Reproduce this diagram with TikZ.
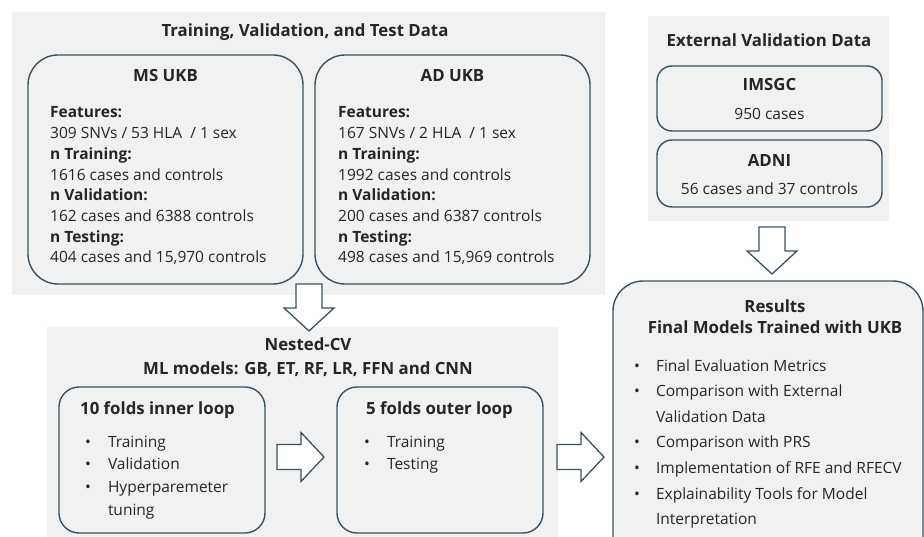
\documentclass[tikz,border=0pt]{standalone}
\usepackage{fontspec}
\setmainfont{Open Sans}
\definecolor{edgec}{RGB}{58,82,98}
\definecolor{panelc}{RGB}{241,241,241}
\definecolor{inkc}{RGB}{38,38,38}
\newcommand\dgBody{\fontsize{15.5}{20.7}\selectfont}
\newcommand\dgHead{\fontsize{16.8}{21}\selectfont\bfseries}
\tikzset{
  panel/.style={fill=panelc, draw=none, inner sep=0pt},
  rbox/.style={draw=edgec, line width=1.4pt, inner sep=0pt},
  blockarrow/.style={draw=edgec, fill=white, line width=1.3pt, line join=miter},
  head/.style={font=\dgHead, text=inkc, inner sep=0pt},
  body/.style={font=\dgBody, text=inkc, inner sep=0pt, anchor=base west},
  downarrow/.pic={\draw[blockarrow] (-13,0) -- (13,0) -- (13,24) -- (25,24) -- (0,47) -- (-25,24) -- (-13,24) -- cycle;},
  rightarrow/.pic={\draw[blockarrow] (0,-12.5) -- (24,-12.5) -- (24,-24.5) -- (47,0) -- (24,24.5) -- (24,12.5) -- (0,12.5) -- cycle;}
}
\begin{document}
\begin{tikzpicture}[x=1pt,y=-1pt]
\useasboundingbox (0,0) rectangle (924,537);
\clip (0,0) rectangle (924,537);
\fill[white] (0,0) rectangle (924,537);

% panels
\node[panel, minimum width=593pt, minimum height=283pt] (trainpanel) at (308.5,153.5) {};
\node[panel, minimum width=241pt, minimum height=205pt] (extpanel) at (768.5,118.5) {};
\node[panel, minimum width=511pt, minimum height=215pt] (cvpanel) at (302.5,434.5) {};

% top panel
\node[head] (traintitle) at (305,32) {Training, Validation, and Test Data};
\node[rbox, rounded corners=30pt, minimum width=275pt, minimum height=229pt] (ms) at (165.5,169.5) {};
\node[rbox, rounded corners=30pt, minimum width=275pt, minimum height=229pt] (ad) at (452.5,169.5) {};
\node[head] (mstitle) at (165.5,76) {MS UKB};
\node[head] (adtitle) at (452.5,76) {AD UKB};
\node[body] (mstext) at (50,118) {\begin{tabular}[t]{@{}l@{}}
\textbf{Features:}\\
309 SNVs / 53 HLA\ \ / 1 sex\\
\textbf{n Training:}\\
1616 cases and controls\\
\textbf{n Validation:}\\
162 cases and 6388 controls\\
\textbf{n Testing:}\\
404 cases and 15,970 controls
\end{tabular}};
\node[body] (adtext) at (338,118) {\begin{tabular}[t]{@{}l@{}}
\textbf{Features:}\\
167 SNVs / 2 HLA\ \ / 1 sex\\
\textbf{n Training:}\\
1992 cases and controls\\
\textbf{n Validation:}\\
200 cases and 6387 controls\\
\textbf{n Testing:}\\
498 cases and 15,969 controls
\end{tabular}};

% external panel
\node[head] (exttitle) at (769,40) {External Validation Data};
\node[rbox, rounded corners=15pt, minimum width=225pt, minimum height=65pt] (imsgc) at (769.5,98.5) {};
\node[rbox, rounded corners=15pt, minimum width=225pt, minimum height=67pt] (adni) at (769.5,173.5) {};
\node[head] (imsgctitle) at (769.5,85) {IMSGC};
\node[font=\dgBody, text=inkc, inner sep=0pt] (imsgctext) at (769.5,114) {950 cases};
\node[head] (adnititle) at (769.5,160) {ADNI};
\node[font=\dgBody, text=inkc, inner sep=0pt] (adnitext) at (769.5,189) {56 cases and 37 controls};

% nested CV panel
\node[head, align=center, font=\fontsize{16.8}{23.5}\selectfont\bfseries] (cvtitle) at (308,357) {Nested-CV\\ML models: GB, ET, RF, LR, FFN and CNN};
\node[rbox, rounded corners=20pt, minimum width=206pt, minimum height=146pt] (inner) at (162,460) {};
\node[rbox, rounded corners=20pt, minimum width=206pt, minimum height=146pt] (outer) at (440,460) {};
\node[head, anchor=west] (innertitle) at (80,410) {10 folds inner loop};
\node[head, anchor=west] (outertitle) at (366,410) {5 folds outer loop};
\node[body, font=\fontsize{15.5}{22.8}\selectfont] (innertext) at (85,447) {\begin{tabular}[t]{@{}l@{\hspace{17pt}}l@{}}
\textbullet & Training\\
\textbullet & Validation\\
\textbullet & Hyperparemeter\\
 & tuning
\end{tabular}};
\node[body, font=\fontsize{15.5}{22.8}\selectfont] (outertext) at (364,447) {\begin{tabular}[t]{@{}l@{\hspace{17pt}}l@{}}
\textbullet & Training\\
\textbullet & Testing
\end{tabular}};

% results
\node[rbox, fill=panelc, rounded corners=30pt, minimum width=310pt, minimum height=289pt] (results) at (768,425.5) {};
\node[head, align=center] (restitle) at (775,317) {Results\\Final Models Trained with UKB};
\node[body, font=\fontsize{15.5}{25.6}\selectfont] (restext) at (634,371) {\begin{tabular}[t]{@{}l@{\hspace{16pt}}l@{}}
\textbullet & Final Evaluation Metrics\\
\textbullet & Comparison with External\\
 & Validation Data\\
\textbullet & Comparison with PRS\\
\textbullet & Implementation of RFE and RFECV\\
\textbullet & Explainability Tools for Model\\
 & Interpretation
\end{tabular}};

% block arrows
\pic at (309,284) {downarrow};
\pic at (772,227) {downarrow};
\pic at (277,457) {rightarrow};
\pic at (557,457) {rightarrow};
\end{tikzpicture}
\end{document}
